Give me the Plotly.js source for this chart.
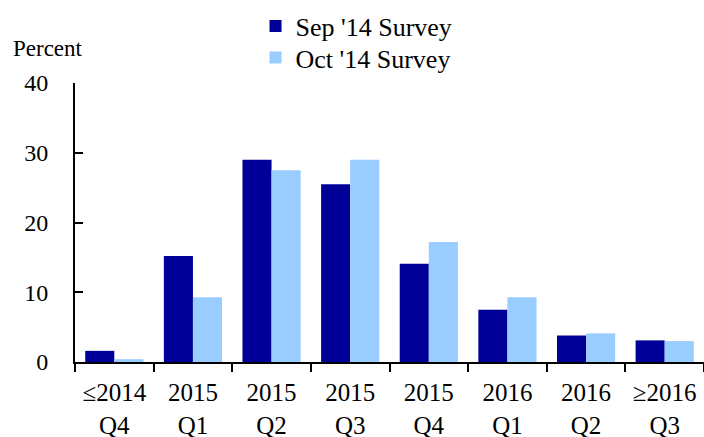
<!DOCTYPE html>
<html>
<head>
<meta charset="utf-8">
<script src="https://cdn.plot.ly/plotly-3.0.1.min.js"></script>
<style>html,body{margin:0;padding:0;background:#fff;}#chart{width:704px;height:437px;}</style>
</head>
<body>
<div id="chart"></div>
<script>
var categories = ["≤2014<br>Q4", "2015<br>Q1", "2015<br>Q2", "2015<br>Q3", "2015<br>Q4", "2016<br>Q1", "2016<br>Q2", "≥2016<br>Q3"];
var sepSurvey = [1.6, 15.2, 29.0, 25.5, 14.1, 7.5, 3.8, 3.1];
var octSurvey = [0.4, 9.3, 27.5, 29.0, 17.2, 9.3, 4.1, 3.0];
var seriesNames = ["Sep '14 Survey", "Oct '14 Survey"];
var yTicks = [0, 10, 20, 30, 40];

var font = "Liberation Serif";
var data = [
  {type: "bar", x: categories, y: sepSurvey, name: seriesNames[0], legend: "legend", marker: {color: "#000099", line: {width: 0}}},
  {type: "bar", x: categories, y: octSurvey, name: seriesNames[1], legend: "legend2", marker: {color: "#99CCFF", line: {width: 0}}}
];
var legendBase = {x: 0.287, xanchor: "left", yanchor: "middle", font: {family: font, size: 26, color: "#000"},
                  bgcolor: "rgba(0,0,0,0)", borderwidth: 0, itemwidth: 30};
var layout = {
  width: 704, height: 437,
  margin: {l: 75, r: 0, t: 83, b: 75, pad: 0},
  paper_bgcolor: "#fff", plot_bgcolor: "#fff",
  font: {family: font, color: "#000", size: 24},
  barmode: "group", bargap: 0.26, bargroupgap: 0,
  showlegend: true,
  legend: Object.assign({}, legendBase, {y: 1.204}),
  legend2: Object.assign({}, legendBase, {y: 1.091}),
  xaxis: {type: "category", showline: true, linecolor: "#000", linewidth: 2, ticks: "outside", tickson: "boundaries",
          ticklen: 8, tickwidth: 2, tickcolor: "#000", showgrid: false, zeroline: false, ticklabelstandoff: 7,
          tickfont: {family: font, size: 25, color: "#000"}, fixedrange: true},
  yaxis: {range: [0, 40], tickvals: yTicks, ticktext: yTicks.map(String), showline: true, linecolor: "#000", linewidth: 2,
          ticks: "inside", ticklen: 8, tickwidth: 2, tickcolor: "#000", showgrid: false, zeroline: false,
          ticklabelstandoff: 20, tickfont: {family: font, size: 24, color: "#000"}, fixedrange: true},
  annotations: [{text: "Percent", xref: "paper", yref: "paper", x: -0.1017, y: 1.122, xanchor: "left", yanchor: "middle",
                 showarrow: false, font: {family: font, size: 23, color: "#000"}}]
};
Plotly.newPlot("chart", data, layout, {displayModeBar: false, staticPlot: true});
</script>
</body>
</html>
